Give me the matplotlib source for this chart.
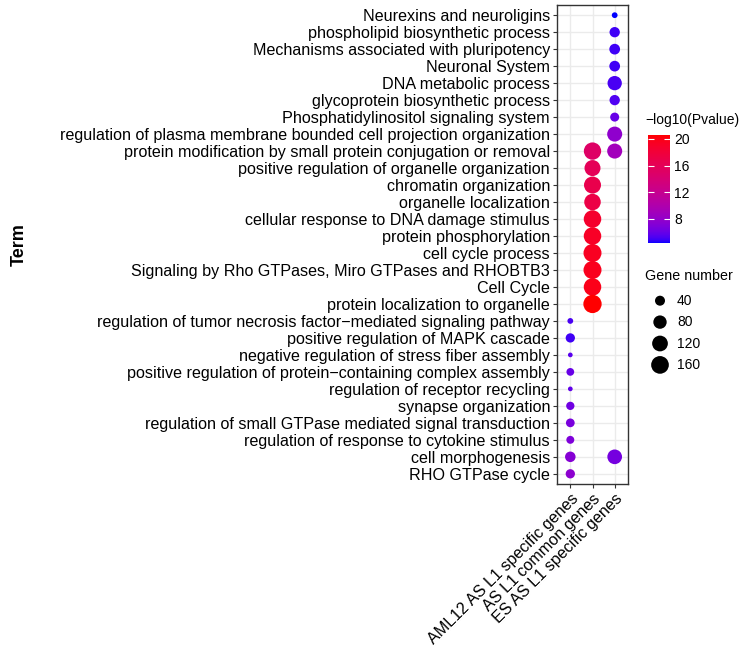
import numpy as np
import matplotlib
matplotlib.use("Agg")
import matplotlib.pyplot as plt
from matplotlib.colors import ListedColormap, Normalize
from matplotlib.cm import ScalarMappable

plt.rcParams['font.family'] = ['Liberation Sans', 'DejaVu Sans']

# terms, top to bottom
terms = [
    "Neurexins and neuroligins",
    "phospholipid biosynthetic process",
    "Mechanisms associated with pluripotency",
    "Neuronal System",
    "DNA metabolic process",
    "glycoprotein biosynthetic process",
    "Phosphatidylinositol signaling system",
    "regulation of plasma membrane bounded cell projection organization",
    "protein modification by small protein conjugation or removal",
    "positive regulation of organelle organization",
    "chromatin organization",
    "organelle localization",
    "cellular response to DNA damage stimulus",
    "protein phosphorylation",
    "cell cycle process",
    "Signaling by Rho GTPases, Miro GTPases and RHOBTB3",
    "Cell Cycle",
    "protein localization to organelle",
    "regulation of tumor necrosis factor\u2212mediated signaling pathway",
    "positive regulation of MAPK cascade",
    "negative regulation of stress fiber assembly",
    "positive regulation of protein\u2212containing complex assembly",
    "regulation of receptor recycling",
    "synapse organization",
    "regulation of small GTPase mediated signal transduction",
    "regulation of response to cytokine stimulus",
    "cell morphogenesis",
    "RHO GTPase cycle",
]
groups = ["AML12 AS L1 specific genes", "AS L1 common genes", "ES AS L1 specific genes"]

# ES AS L1 specific genes
es_terms = terms[0:9] + ["cell morphogenesis"]
es_count = [17, 43, 47, 47, 95, 43, 32, 107, 107, 101]
es_logp = [4.4, 5.0, 5.0, 5.0, 5.2, 5.3, 6.0, 7.8, 9.0, 6.5]

# AS L1 common genes
common_terms = terms[8:18]
common_count = [152, 125, 145, 135, 156, 156, 167, 167, 156, 174]
common_logp = [15.0, 16.0, 16.8, 17.2, 18.8, 19.2, 19.4, 19.6, 19.8, 20.6]

# AML12 AS L1 specific genes
aml_terms = terms[18:28]
aml_count = [17, 34, 16, 24, 16, 27, 30, 25, 45, 34]
aml_logp = [5.2, 5.0, 5.6, 6.0, 5.8, 6.3, 6.7, 6.9, 7.3, 7.6]

size_breaks = [40, 80, 120, 160]
cbar_ticks = [8, 12, 16, 20]


# blue -> red gradient interpolated in Lab space (like ggplot)
def srgb_to_lab(rgb):
    rgb = np.asarray(rgb, float)
    c = np.where(rgb <= 0.04045, rgb / 12.92, ((rgb + 0.055) / 1.055) ** 2.4)
    M = np.array([[0.4124, 0.3576, 0.1805], [0.2126, 0.7152, 0.0722], [0.0193, 0.1192, 0.9505]])
    xyz = M @ c / np.array([0.95047, 1.0, 1.08883])
    d = 6 / 29
    f = np.where(xyz > d ** 3, np.cbrt(xyz), xyz / (3 * d ** 2) + 4 / 29)
    return np.array([116 * f[1] - 16, 500 * (f[0] - f[1]), 200 * (f[1] - f[2])])


def lab_to_srgb(lab):
    L, a, b = lab
    fy = (L + 16) / 116
    fx = fy + a / 500
    fz = fy - b / 200
    d = 6 / 29
    f = np.array([fx, fy, fz])
    xyz = np.where(f > d, f ** 3, 3 * d ** 2 * (f - 4 / 29)) * np.array([0.95047, 1.0, 1.08883])
    Minv = np.array([[3.2406, -1.5372, -0.4986], [-0.9689, 1.8758, 0.0415], [0.0557, -0.2040, 1.0570]])
    c = np.clip(Minv @ xyz, 0, 1)
    return np.where(c <= 0.0031308, 12.92 * c, 1.055 * c ** (1 / 2.4) - 0.055).clip(0, 1)


lab_lo = srgb_to_lab([0, 0, 1])
lab_hi = srgb_to_lab([1, 0, 0])
cmap = ListedColormap([lab_to_srgb(lab_lo + t * (lab_hi - lab_lo)) for t in np.linspace(0, 1, 256)])

all_logp = es_logp + common_logp + aml_logp
all_count = es_count + common_count + aml_count
norm = Normalize(min(all_logp), max(all_logp))
gmin, gmax = min(all_count), max(all_count)


def marker_area(g):
    # ggplot-like area scale: diameter 4.7px .. 18.3px over the data range
    diam_px = 4.7 + 13.6 * np.sqrt((np.asarray(g, float) - gmin) / (gmax - gmin))
    return (diam_px * 0.72) ** 2


fig = plt.figure(figsize=(7.4, 6.48), dpi=100)
ax = fig.add_axes([557 / 740, 164 / 648, 71 / 740, 479 / 648])

ypos = {t: len(terms) - i for i, t in enumerate(terms)}
for gi, (tt, cnt, lp) in enumerate([(aml_terms, aml_count, aml_logp),
                                    (common_terms, common_count, common_logp),
                                    (es_terms, es_count, es_logp)]):
    ax.scatter([gi + 1] * len(tt), [ypos[t] for t in tt], s=marker_area(cnt),
               c=cmap(norm(np.array(lp))), edgecolors='none', zorder=3)

ax.set_xlim(0.4, 3.6)
ax.set_ylim(0.4, len(terms) + 0.6)
ax.set_xticks([1, 2, 3])
ax.set_xticklabels(groups, rotation=45, ha='right', rotation_mode='anchor', fontsize=11.6)
ax.set_yticks([ypos[t] for t in terms])
ax.set_yticklabels(terms, fontsize=11.6)
ax.grid(True, color='#EBEBEB', lw=1.0, zorder=0)
ax.set_axisbelow(True)
for sp in ax.spines.values():
    sp.set_color('#333333')
    sp.set_linewidth(1.0)
ax.tick_params(length=3, width=0.8, color='#333333', labelcolor='black', pad=2)
ax.set_ylabel("Term", fontsize=13, fontweight='bold')
ax.yaxis.set_label_coords((28 - 557) / 71, 0.5)

# colour bar
cax = fig.add_axes([648 / 740, (648 - 243) / 648, 22 / 740, 108 / 648])
cb = fig.colorbar(ScalarMappable(norm=norm, cmap=cmap), cax=cax, ticks=cbar_ticks)
cb.outline.set_visible(False)
cax.tick_params(left=True, right=True, direction='in', length=4, width=0.8,
                color='white', labelcolor='black', labelsize=10, pad=3)
fig.text(645 / 740, 1 - 120 / 648, "\u2212log10(Pvalue)", fontsize=10, va='center', ha='left')

# size legend
fig.text(645 / 740, 1 - 276 / 648, "Gene number", fontsize=10.3, va='center', ha='left')
lax = fig.add_axes([645 / 740, (648 - 375.6) / 648, 90 / 740, 85.6 / 648])
lax.set_xlim(0, 90)
lax.set_ylim(len(size_breaks) - 0.5, -0.5)
lax.axis('off')
lax.scatter([15] * len(size_breaks), range(len(size_breaks)), s=marker_area(size_breaks),
            color='black', edgecolors='none')
for i, b in enumerate(size_breaks):
    lax.text(32, i, str(b), fontsize=10, va='center', ha='left')

fig.savefig("out.png", dpi=100)
